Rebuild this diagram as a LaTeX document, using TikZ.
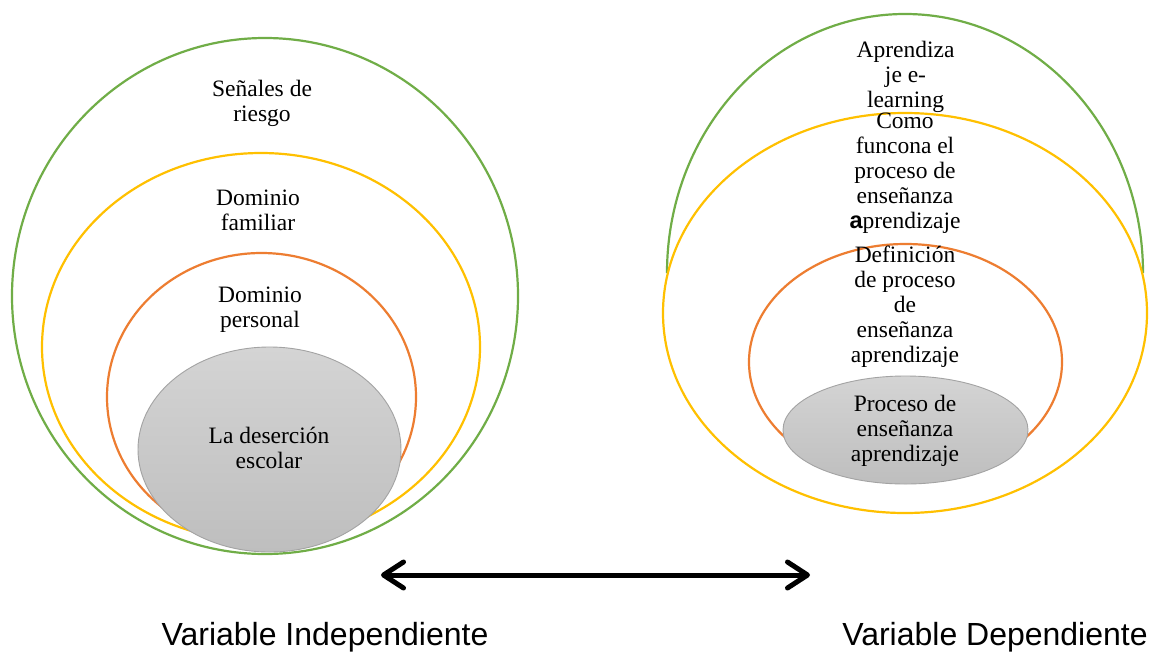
\documentclass[tikz,border=0pt]{standalone}
\usepackage{fontspec}
\setmainfont{Liberation Serif}
\setsansfont{Liberation Sans}
\usetikzlibrary{shapes.geometric,arrows.meta}
\definecolor{cgreen}{HTML}{70AD47}
\definecolor{cyellow}{HTML}{FFC000}
\definecolor{corange}{HTML}{ED7D31}
\definecolor{cgreytop}{HTML}{D4D4D4}
\definecolor{cgreybot}{HTML}{BEBEBE}
\definecolor{cgreyline}{HTML}{A3A3A3}
\begin{document}
\begin{tikzpicture}[x=1pt,y=-1pt,
  ring/.style={ellipse, draw, line width=2.2pt, fill=white, inner sep=0pt, outer sep=0pt},
  core/.style={ellipse, draw=cgreyline, line width=0.9pt, top color=cgreytop, bottom color=cgreybot, inner sep=0pt, outer sep=0pt},
  lbl/.style={align=center, font=\fontsize{23.5}{24.8}\selectfont, anchor=base, inner sep=0pt},
  caption/.style={font=\sffamily\fontsize{32}{38}\selectfont, anchor=base, inner sep=0pt},
  link/.style={line width=5pt, {Straight Barb[length=20pt,width=26pt,round]}-{Straight Barb[length=20pt,width=26pt,round]}}]
\useasboundingbox (0,0) rectangle (1153,651);
% left set
\node[ring, draw=cgreen, minimum width=506pt, minimum height=516pt] (Lg) at (265,296) {};
\node[ring, draw=cyellow, minimum width=438pt, minimum height=388pt] (Ly) at (261,347) {};
\node[ring, draw=corange, minimum width=309pt, minimum height=288pt] (Lo) at (261.5,397) {};
\node[core, minimum width=263pt, minimum height=205pt] (Lc) at (269.5,449.5) {};
% right set
\draw[cgreen, line width=2.2pt] (667,273) arc[start angle=180, end angle=360, x radius=238, y radius=259];
\node[ring, draw=cyellow, minimum width=484pt, minimum height=400pt] (Ry) at (905,313) {};
\node[ring, draw=corange, minimum width=313pt, minimum height=236pt] (Ro) at (905.5,362) {};
\node[core, minimum width=245pt, minimum height=108pt] (Rc) at (905.5,430) {};
% texts (anchored at the baseline of their last line)
\node[lbl] (t1) at (262,121) {Señales de\\riesgo};
\node[lbl] (t2) at (258,230) {Dominio\\familiar};
\node[lbl] (t3) at (260,327) {Dominio\\personal};
\node[lbl] (t4) at (269,468) {La deserción\\escolar};
\node[lbl] (t5) at (905.5,107) {Aprendiza\\je e-\\learning};
\node[lbl] (t6) at (905,228) {Como\\funcona el\\proceso de\\enseñanza\\{\sffamily\bfseries a}prendizaje};
\node[lbl] (t7) at (905,362) {Definición\\de proceso\\de\\enseñanza\\aprendizaje};
\node[lbl] (t8) at (905,461) {Proceso de\\enseñanza\\aprendizaje};
% arrow
\coordinate (aL) at (381,575);
\coordinate (aR) at (810,575);
\draw[link] (aL) -- (aR);
% captions
\node[caption] (c1) at (325,645) {Variable Independiente};
\node[caption] (c2) at (995,645) {Variable Dependiente};
\end{tikzpicture}
\end{document}
